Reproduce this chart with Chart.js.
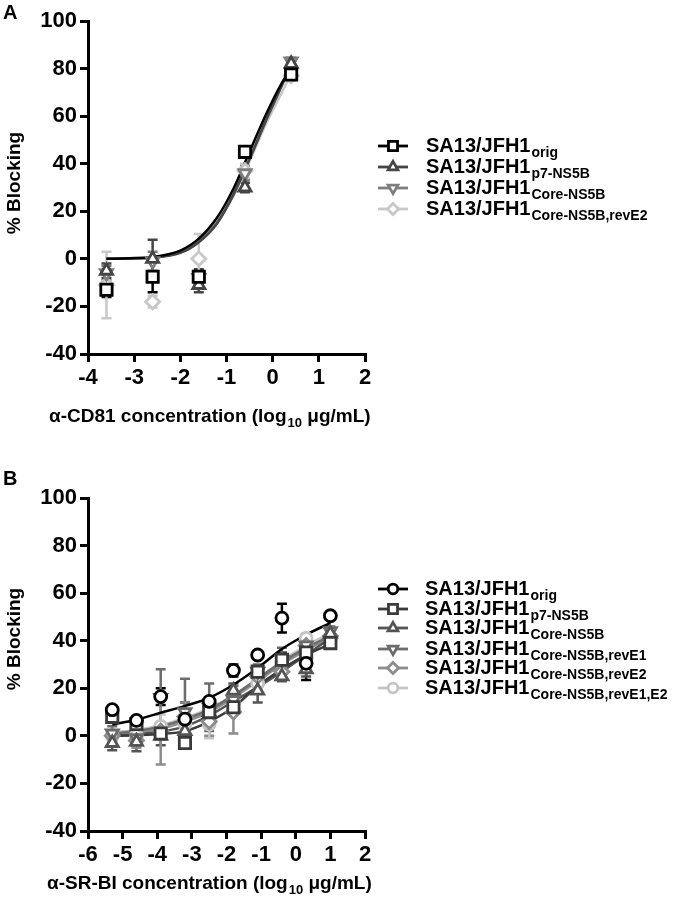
<!DOCTYPE html>
<html>
<head>
<meta charset="utf-8">
<script src="https://cdn.jsdelivr.net/npm/chart.js@4.4.1/dist/chart.umd.min.js"></script>
<style>
  body { margin: 0; background: #fff; width: 680px; height: 899px; overflow: hidden; }
  .panel { position: absolute; left: 0; width: 680px; }
  #wrapA { top: 0; height: 450px; }
  #wrapB { top: 450px; height: 449px; }
</style>
</head>
<body>
<div class="panel" id="wrapA"><canvas id="chartA" width="680" height="450"></canvas></div>
<div class="panel" id="wrapB"><canvas id="chartB" width="680" height="449"></canvas></div>
<script>
const FONT = '"Liberation Sans", Arial, Helvetica, sans-serif';

// ---- Panel A: anti-CD81 ----
const xTicksA = [-4, -3, -2, -1, 0, 1, 2];
const xA = [-3.6, -2.6, -1.6, -0.6, 0.4];
const aOrig = [-13, -7.5, -7.5, 45, 77.5];
const aOrigErr = [3, 6.5, 3, 2, 2];
const aP7 = [-5, 0, -11, 30, 82];
const aP7Err = [3, 8, 3, 2, 1.5];
const aCore = [-6, -1, -8, 36, 83];
const aCoreErr = [3, 4, 3, 3, 1.5];
const aRevE2 = [-11, -18, 0, 37, 77];
const aRevE2Err = [14, 2.5, 10.5, 3, 2];

// fitted curves
const fitXA = [-3.6, -3.1, -2.6, -2.0, -1.6, -1.2, -0.85, -0.5, -0.15, 0.2, 0.4];
const aOrigFit = [0, 0.3, 0.8, 3.5, 8.5, 17.5, 29.5, 45, 60.5, 74, 80];
const aP7Fit = [0, 0.2, 0.5, 2.5, 7, 15, 27, 42, 58, 73, 82];
const aCoreFit = [0, 0.2, 0.6, 2.8, 7.5, 15.5, 27, 42, 58, 73, 82];
const aRevE2Fit = [0, 0.3, 0.7, 3, 7.5, 15.5, 26.5, 41, 56.5, 70, 78];

// ---- Panel B: anti-SR-BI ----
const xTicksB = [-6, -5, -4, -3, -2, -1, 0, 1, 2];
const xB = [-5.3, -4.6, -3.9, -3.2, -2.5, -1.8, -1.1, -0.4, 0.3, 1.0];
const bOrig = [11, 6.5, 16.5, 7, 14.5, 27.5, 34, 49.5, 30.5, 50.5];
const bOrigErr = [1.5, 1.5, 3.5, 7, 1.5, 2.5, 1, 6, 7, 1];
const bP7 = [8, 5, 1, -3, 10, 12, 27, 32, 35, 39];
const bP7Err = [1, 2, 2, 1, 2, 3, 2, 3, 3, 2];
const bCore = [-3, -2.5, 0, 2, 10, 19, 19, 25, 28, 43];
const bCoreErr = [3, 4, 4, 3, 3, 3, 5, 2, 3, 2];
const bRevE1 = [1, -1, 16, 10, 12, 15, 27, 32, 38, 44];
const bRevE1Err = [3, 3, 12, 14, 10, 6, 3, 5, 3, 2];
const bRevE2 = [0, -2, 2, 8, 6, 10, 25, 27, 38, 42];
const bRevE2Err = [2, 3, 14, 6, 6, 9, 3, 3, 3, 2];
const bRevE1E2 = [0, 0, 4, 5, 5, 14, 22, 31, 41, 41];
const bRevE1E2Err = [2, 2, 5, 5, 6, 4, 3, 3, 2, 2];

const bOrigFit = [4.8, 6.8, 9.7, 12.6, 16, 21.5, 28.5, 36.5, 42.5, 47.5];
const bP7Fit = [0, 0.3, 0.8, 2, 6, 12, 21, 28, 34, 38.5];
const bCoreFit = [0.2, 0.6, 1.8, 4, 8.5, 14.5, 20.5, 27, 34, 41];
const bRevE1Fit = [1, 2, 4, 7, 11, 17, 24, 31, 37, 42];
const bRevE2Fit = [0.5, 1.5, 3, 6, 10, 16, 23, 30, 36, 41];
const bRevE1E2Fit = [1.5, 2.5, 4.5, 7.5, 11.5, 17, 24, 31.5, 38, 43];

const toPts = (xs, ys) => xs.map((x, i) => ({ x, y: ys[i] }));

// one point series + one fitted curve per virus
function series(label, color, style, rotation, radius, xs, ys, err, fitXs, fit) {
  return [
    {
      type: 'scatter', sub: label, data: toPts(xs, ys), err,
      borderColor: color, backgroundColor: '#fff',
      pointStyle: style, rotation, radius, pointRadius: radius,
      pointBorderWidth: 2.8, pointBackgroundColor: '#fff', pointBorderColor: color,
      showLine: false, order: 0
    },
    {
      type: 'line', data: toPts(fitXs, fit), borderColor: color, borderWidth: 2.5,
      pointRadius: 0, cubicInterpolationMode: 'monotone', fill: false, order: 10
    }
  ];
}

const errorBars = {
  id: 'errorBars',
  beforeDatasetsDraw(chart) {
    const { ctx, scales: { x, y } } = chart;
    chart.data.datasets.forEach((ds) => {
      if (!ds.err) return;
      ctx.save();
      ctx.strokeStyle = ds.borderColor;
      ctx.lineWidth = 2.5;
      ds.data.forEach((p, j) => {
        const e = ds.err[j];
        const px = x.getPixelForValue(p.x);
        const top = y.getPixelForValue(p.y + e);
        const bot = y.getPixelForValue(p.y - e);
        ctx.beginPath();
        ctx.moveTo(px, top); ctx.lineTo(px, bot);
        ctx.moveTo(px - 5, top); ctx.lineTo(px + 5, top);
        ctx.moveTo(px - 5, bot); ctx.lineTo(px + 5, bot);
        ctx.stroke();
      });
      ctx.restore();
    });
  }
};

// legend with subscripts, panel letter, axis titles with subscripts
const decorations = {
  id: 'decorations',
  afterDraw(chart, args, opts) {
    const { ctx } = chart;
    ctx.save();
    ctx.fillStyle = '#000';
    ctx.textBaseline = 'alphabetic';

    // panel letter
    ctx.font = `bold 20px ${FONT}`;
    ctx.fillText(opts.letter, 3, opts.letterY);

    // y title
    ctx.save();
    ctx.translate(20, opts.yTitleY);
    ctx.rotate(-Math.PI / 2);
    ctx.textAlign = 'center';
    ctx.font = `bold 19px ${FONT}`;
    ctx.fillText('% Blocking', 0, 0);
    ctx.restore();

    // x title
    let tx = opts.xTitleX;
    const ty = opts.xTitleY;
    ctx.font = `bold 19px ${FONT}`;
    ctx.fillText(opts.xTitle[0], tx, ty);
    tx += ctx.measureText(opts.xTitle[0]).width;
    ctx.font = `bold 13px ${FONT}`;
    ctx.fillText('10', tx + 1, ty + 5);
    tx += ctx.measureText('10').width + 1;
    ctx.font = `bold 19px ${FONT}`;
    ctx.fillText(opts.xTitle[1], tx, ty);

    // legend
    const pts = chart.data.datasets.filter((d) => d.sub);
    pts.forEach((ds, i) => {
      const y = opts.legendY[i];
      ctx.strokeStyle = ds.borderColor;
      ctx.lineWidth = 2.8;
      ctx.beginPath();
      ctx.moveTo(378, y); ctx.lineTo(408, y);
      ctx.stroke();
      ctx.fillStyle = '#fff';
      Chart.helpers.drawPoint(ctx, {
        pointStyle: ds.pointStyle, rotation: ds.rotation || 0,
        radius: ds.pointRadius * 0.8, borderWidth: 2.5
      }, 393, y);
      ctx.fillStyle = '#000';
      ctx.font = `bold 20px ${FONT}`;
      ctx.fillText('SA13/JFH1', opts.legendX, y + 6);
      const w = ctx.measureText('SA13/JFH1').width;
      ctx.font = `bold 14px ${FONT}`;
      ctx.fillText(ds.sub, opts.legendX + w + 1, y + 11);
    });
    ctx.restore();
  }
};

function axisOptions(xMin, xMax, plotBottomGap) {
  const grid = { display: true, drawOnChartArea: false, drawTicks: true, tickLength: 8,
                 tickWidth: 3, tickColor: '#000', color: '#000', lineWidth: 3 };
  const border = { display: true, color: '#000', width: 3 };
  const ticks = { color: '#000', font: { family: FONT, size: 22, weight: 'bold' }, padding: 3 };
  return {
    x: {
      type: 'linear', min: xMin, max: xMax, grid, border,
      ticks: { ...ticks, stepSize: 1, maxRotation: 0, autoSkip: false },
      afterFit: (s) => { s.height = plotBottomGap; }
    },
    y: {
      type: 'linear', min: -40, max: 100, grid, border,
      ticks: { ...ticks, stepSize: 20, autoSkip: false },
      afterFit: (s) => { s.width = 88; }
    }
  };
}

function makeChart(id, datasets, xMin, xMax, padTop, bottomGap, deco) {
  return new Chart(document.getElementById(id), {
    type: 'scatter',
    data: { datasets },
    options: {
      responsive: false,
      animation: false,
      layout: { padding: { top: padTop, right: 315, bottom: 0, left: 0 } },
      scales: axisOptions(xMin, xMax, bottomGap),
      plugins: { legend: { display: false }, tooltip: { enabled: false }, decorations: deco }
    },
    plugins: [errorBars, decorations]
  });
}

makeChart('chartA', [
  ...series('orig', '#000000', 'rect', 0, 8, xA, aOrig, aOrigErr, fitXA, aOrigFit),
  ...series('p7-NS5B', '#454545', 'triangle', 0, 7, xA, aP7, aP7Err, fitXA, aP7Fit),
  ...series('Core-NS5B', '#7e7e7e', 'triangle', 180, 7, xA, aCore, aCoreErr, fitXA, aCoreFit),
  ...series('Core-NS5B,revE2', '#c8c8c8', 'rectRot', 0, 7, xA, aRevE2, aRevE2Err, fitXA, aRevE2Fit)
], xTicksA[0], xTicksA[xTicksA.length - 1], 21, 96, {
  letter: 'A', letterY: 19, yTitleY: 183,
  xTitle: ['\u03b1-CD81 concentration (log', ' \u03bcg/mL)'], xTitleX: 49, xTitleY: 422,
  legendX: 426, legendY: [146, 167, 188, 209]
});

makeChart('chartB', [
  ...series('orig', '#000000', 'circle', 0, 6, xB, bOrig, bOrigErr, xB, bOrigFit),
  ...series('p7-NS5B', '#3a3a3a', 'rect', 0, 8, xB, bP7, bP7Err, xB, bP7Fit),
  ...series('Core-NS5B', '#545454', 'triangle', 0, 7, xB, bCore, bCoreErr, xB, bCoreFit),
  ...series('Core-NS5B,revE1', '#6c6c6c', 'triangle', 180, 7, xB, bRevE1, bRevE1Err, xB, bRevE1Fit),
  ...series('Core-NS5B,revE2', '#8c8c8c', 'rectRot', 0, 7, xB, bRevE2, bRevE2Err, xB, bRevE2Fit),
  ...series('Core-NS5B,revE1,E2', '#c4c4c4', 'circle', 0, 6, xB, bRevE1E2, bRevE1E2Err, xB, bRevE1E2Fit)
], xTicksB[0], xTicksB[xTicksB.length - 1], 48, 68, {
  letter: 'B', letterY: 35, yTitleY: 189,
  xTitle: ['\u03b1-SR-BI concentration (log', ' \u03bcg/mL)'], xTitleX: 47, xTitleY: 439,
  legendX: 425, legendY: [139, 159, 178, 199, 218, 238]
});
</script>
</body>
</html>
